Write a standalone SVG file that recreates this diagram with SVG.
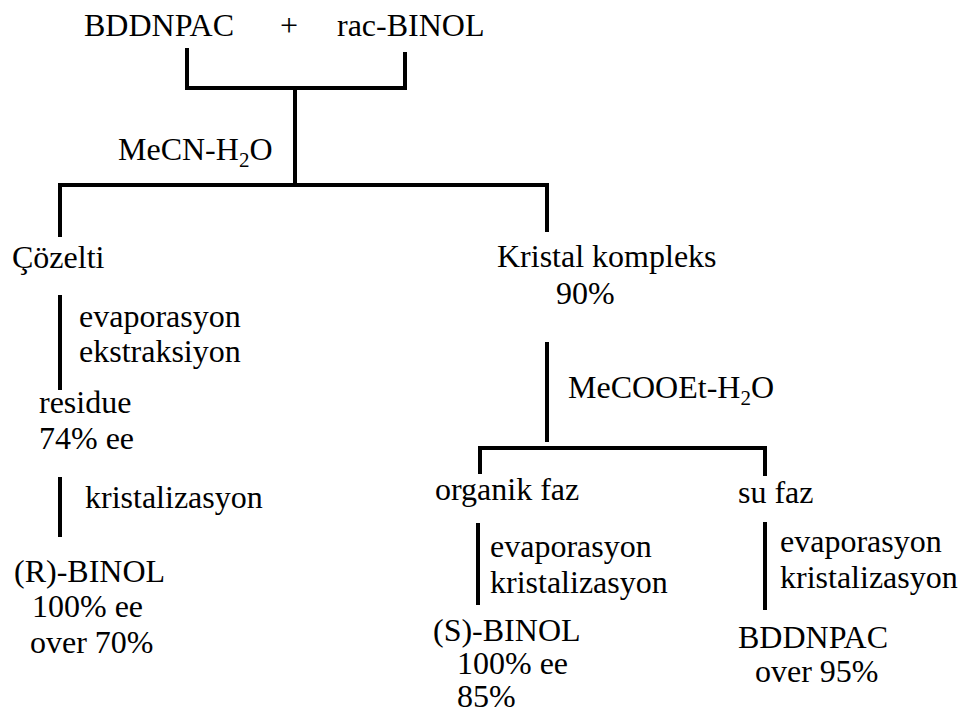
<svg xmlns="http://www.w3.org/2000/svg" width="958" height="715" viewBox="0 0 958 715">
<style>
text{font-family:"Liberation Serif","Times New Roman",serif;font-size:32px;fill:#000}
.sub{font-size:21px}
#connectors line{stroke:#000;stroke-width:4;stroke-linecap:butt}
</style>
<rect width="958" height="715" fill="#fff"/>
<g id="connectors">
<line x1="187" y1="48" x2="187" y2="90"/>
<line x1="405" y1="52" x2="405" y2="90"/>
<line x1="185" y1="88" x2="407" y2="88"/>
<line x1="295" y1="88" x2="295" y2="185"/>
<line x1="58" y1="185" x2="549" y2="185"/>
<line x1="60" y1="183" x2="60" y2="237"/>
<line x1="547" y1="183" x2="547" y2="232"/>
<line x1="60" y1="295" x2="60" y2="390"/>
<line x1="60" y1="477" x2="60" y2="537"/>
<line x1="547" y1="342" x2="547" y2="442"/>
<line x1="478" y1="448" x2="767" y2="448"/>
<line x1="480" y1="446" x2="480" y2="474"/>
<line x1="765" y1="446" x2="765" y2="476"/>
<line x1="478" y1="523" x2="478" y2="605"/>
<line x1="765" y1="522" x2="765" y2="610"/>
</g>
<g id="start"><text x="84" y="36">BDDNPAC</text><text x="280" y="36">+</text><text x="337" y="36">rac-BINOL</text></g>
<g id="solvent1"><text x="118" y="160">MeCN-H<tspan class="sub" dy="7">2</tspan><tspan dy="-7">O</tspan></text></g>
<g id="cozelti"><text x="12" y="268">Çözelti</text></g>
<g id="step1"><text x="79" y="327">evaporasyon</text><text x="79" y="362">ekstraksiyon</text></g>
<g id="residue"><text x="39" y="413">residue</text><text x="39" y="449">74% ee</text></g>
<g id="step2"><text x="85" y="508">kristalizasyon</text></g>
<g id="rbinol"><text x="14" y="582">(R)-BINOL</text><text x="32" y="617">100% ee</text><text x="30" y="653">over 70%</text></g>
<g id="kristal"><text x="497" y="267">Kristal kompleks</text><text x="556" y="304">90%</text></g>
<g id="solvent2"><text x="568" y="398">MeCOOEt-H<tspan class="sub" dy="7">2</tspan><tspan dy="-7">O</tspan></text></g>
<g id="organik"><text x="435" y="500">organik faz</text></g>
<g id="su"><text x="738" y="503">su faz</text></g>
<g id="step3"><text x="490" y="557">evaporasyon</text><text x="490" y="593">kristalizasyon</text></g>
<g id="step4"><text x="780" y="552">evaporasyon</text><text x="780" y="588">kristalizasyon</text></g>
<g id="sbinol"><text x="433" y="641">(S)-BINOL</text><text x="457" y="674">100% ee</text><text x="457" y="707">85%</text></g>
<g id="bddnpac2"><text x="738" y="648">BDDNPAC</text><text x="755" y="682">over 95%</text></g>
</svg>
